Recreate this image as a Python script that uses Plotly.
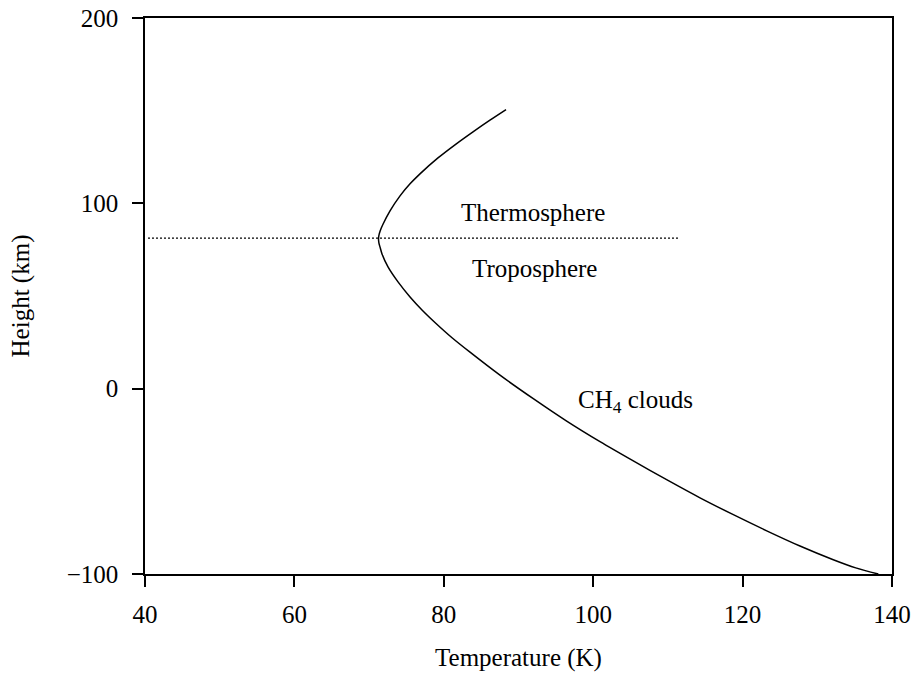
import plotly.graph_objects as go

# Temperature profile (K) vs height (km)
temperature = [88.33, 86.18, 83.91, 81.63, 79.22, 76.81, 75.48, 74.14, 72.80, 71.86,
               71.49, 71.30, 71.26, 71.31, 71.49, 71.73, 72.53, 73.87, 75.48, 77.08,
               78.96, 81.10, 83.51, 87.52, 91.98, 96.45, 100.91, 105.37, 109.83,
               114.30, 118.76, 123.23, 127.68, 132.14, 135.15, 138.17]
height = [150.6, 144.9, 138.6, 132.0, 124.5, 115.9, 110.5, 104.0, 95.9, 88.7,
          85.2, 82.5, 80.7, 78.7, 76.0, 72.7, 65.7, 57.6, 49.5, 42.5,
          35.2, 27.5, 19.7, 7.3, -5.4, -17.5, -28.6, -39.0, -49.1,
          -58.9, -68.0, -76.7, -84.9, -92.3, -96.7, -100.0]

# Tropopause (dotted boundary)
boundary_t = [40.4, 111.4]
boundary_h = [81.2, 81.2]

# Region labels
label_text = ["Thermosphere", "Troposphere", "CH<sub>4</sub> clouds"]
label_t = [91.9, 92.1, 105.7]
label_h = [94.9, 64.6, -7.0]

x_ticks = [40, 60, 80, 100, 120, 140]
y_ticks = [-100, 0, 100, 200]

FONT = "Liberation Serif, Times New Roman, serif"

fig = go.Figure()
fig.add_trace(go.Scatter(x=boundary_t, y=boundary_h, mode="lines",
                         line=dict(color="black", width=1.2, dash="2px,2px"),
                         showlegend=False, hoverinfo="skip"))
fig.add_trace(go.Scatter(x=temperature, y=height, mode="lines",
                         line=dict(color="black", width=1.5, shape="spline", smoothing=0.8),
                         showlegend=False))

for txt, tx, hy in zip(label_text, label_t, label_h):
    fig.add_annotation(x=tx, y=hy, xref="x", yref="y", text=txt, showarrow=False,
                       font=dict(family=FONT, size=25, color="black"),
                       xanchor="center", yanchor="middle")

axis_common = dict(showgrid=False, zeroline=False, showline=True, linecolor="black",
                   linewidth=1.5, mirror=True, ticks="outside", ticklen=11,
                   tickwidth=1.5, tickcolor="black", automargin=False,
                   tickfont=dict(family=FONT, size=25, color="black"))

fig.update_xaxes(range=[40, 140], tickvals=x_ticks,
                 ticktext=[str(v) for v in x_ticks],
                 title=dict(text="Temperature (K)", font=dict(family=FONT, size=25, color="black"),
                            standoff=22),
                 ticklabelstandoff=6, **axis_common)
fig.update_yaxes(range=[-100, 200], tickvals=y_ticks,
                 ticktext=["\u2212100", "0", "100", "200"],
                 title=dict(text="Height (km)", font=dict(family=FONT, size=25, color="black"),
                            standoff=30),
                 ticklabelstandoff=9, **axis_common)

fig.update_layout(width=914, height=675,
                  margin=dict(l=145, r=22, t=18, b=101),
                  paper_bgcolor="white", plot_bgcolor="white",
                  font=dict(family=FONT, size=25, color="black"),
                  showlegend=False)

fig.write_html("out.html", config={"displayModeBar": False},
               post_script="document.body.style.margin='0';document.body.style.overflow='hidden';")
